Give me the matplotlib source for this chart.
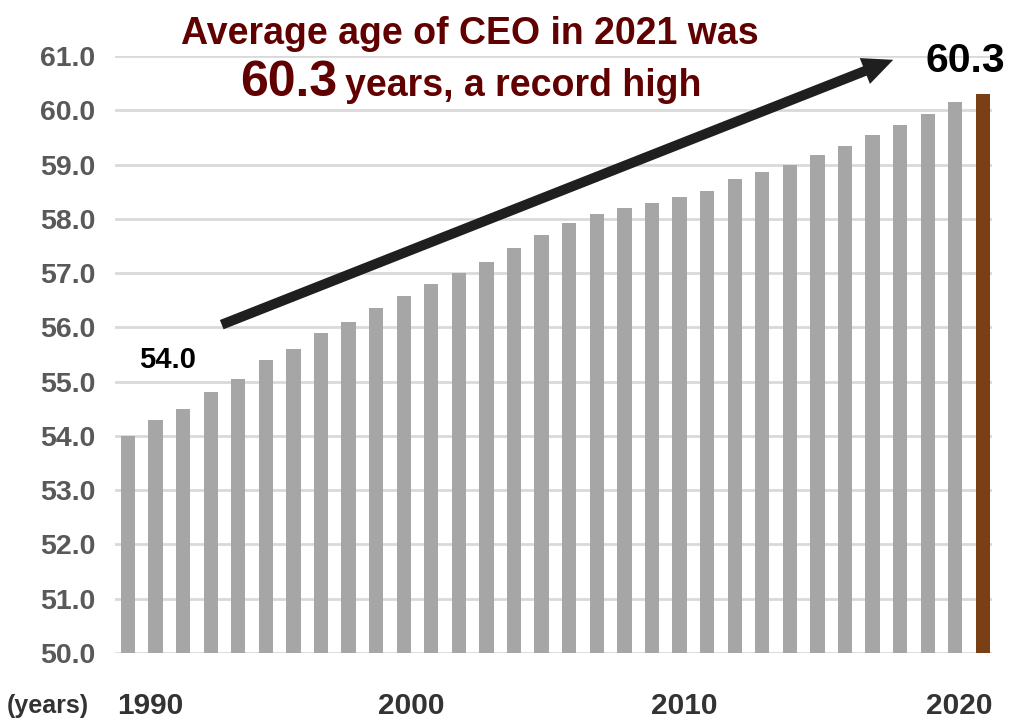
import numpy as np
import matplotlib.pyplot as plt
from matplotlib.transforms import ScaledTranslation

# data
years = list(range(1990, 2022))
avg_age = [54.0, 54.3, 54.5, 54.8, 55.05, 55.4, 55.6, 55.9, 56.1, 56.35,
           56.57, 56.8, 57.0, 57.2, 57.47, 57.7, 57.93, 58.08, 58.2, 58.3,
           58.4, 58.52, 58.73, 58.87, 59.0, 59.17, 59.35, 59.55, 59.72, 59.93,
           60.15, 60.3]
tick_years = [1990, 2000, 2010, 2020]
y_ticks = np.arange(50, 62, 1)

plt.rcParams['font.family'] = ['Liberation Sans', 'DejaVu Sans']
plt.rcParams['font.weight'] = 'bold'

W, H = 1013, 720
fig = plt.figure(figsize=(W / 100, H / 100), dpi=100)
ax = fig.add_axes([115 / W, (H - 653) / H, 877 / W, 597 / H])

x = np.arange(len(years))
colors = ['#a6a6a6'] * (len(years) - 1) + ['#7b3f16']
ax.bar(x, avg_age, width=0.52, bottom=0, color=colors, zorder=2)

ax.set_ylim(50, 61)
ax.set_xlim(-0.47, len(years) - 1 + 0.33)
ax.set_yticks(y_ticks)
ax.set_yticklabels([f'{v:.1f}' for v in y_ticks])
ax.set_xticks([years.index(t) for t in tick_years])
ax.set_xticklabels([str(t) for t in tick_years])
ax.grid(axis='y', color='#d9d9d9', lw=2, zorder=0)
ax.set_axisbelow(True)
for s in ax.spines.values():
    s.set_visible(False)
ax.tick_params(axis='y', length=0, pad=14, labelsize=20.5, labelcolor='#595959')
ax.tick_params(axis='x', length=0, pad=28, labelsize=21.5, labelcolor='#333333')

# nudge the year labels to the right like in the original
shifts = [22, 8, 5, 4]
for lab, dx in zip(ax.get_xticklabels(), shifts):
    lab.set_transform(lab.get_transform() + ScaledTranslation(dx / 100, 0, fig.dpi_scale_trans))

# value labels
ax.text(x[0] + 1.45, 55.25, f'{avg_age[0]:.1f}', ha='center', va='baseline',
        fontsize=21, fontweight='bold', color='black')
ax.text(x[-1] - 0.62, 60.7, f'{avg_age[-1]:.1f}', ha='center', va='baseline',
        fontsize=29.5, fontweight='bold', color='black', clip_on=False)

# trend arrow
ax.annotate('', xy=(27.75, 60.93), xytext=(3.4, 56.05),
            arrowprops=dict(width=7.2, headwidth=20, headlength=22,
                            color='#1f1f1f', lw=0, shrink=0),
            annotation_clip=False, zorder=5)

# title
title_col = '#600000'
fig.text(470 / W, 1 - 44 / H, 'Average age of CEO in 2021 was', ha='center',
         va='baseline', fontsize=27, fontweight='bold', color=title_col)
fig.text(337 / W, 1 - 96 / H, '60.3', ha='right', va='baseline', fontsize=36,
         fontweight='bold', color=title_col)
fig.text(345 / W, 1 - 96 / H, 'years, a record high', ha='left', va='baseline',
         fontsize=27, fontweight='bold', color=title_col)

fig.text(48 / W, 1 - 706 / H, '(years)', ha='center', va='center', fontsize=18,
         fontweight='bold', color='#333333')

fig.savefig('out.png', dpi=100)
